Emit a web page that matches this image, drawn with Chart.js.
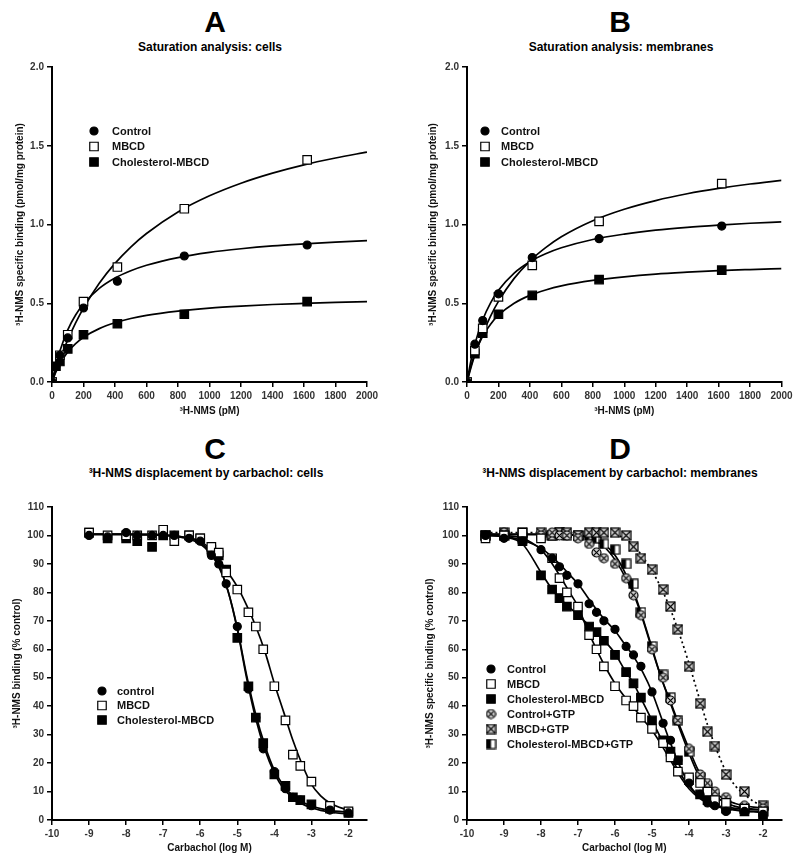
<!DOCTYPE html>
<html><head><meta charset="utf-8">
<script src="https://cdn.jsdelivr.net/npm/chart.js@4.4.0/dist/chart.umd.min.js"></script>
<style>
body{margin:0;background:#fff;width:800px;height:864px;position:relative;overflow:hidden;font-family:Arial,'Liberation Sans',sans-serif;color:#000}
.pan{position:absolute;width:400px;height:432px}
.letter{position:absolute;width:200px;text-align:center;font:bold 30px Arial,'Liberation Sans',sans-serif;line-height:30px}
.sub{position:absolute;width:400px;text-align:center;font:bold 12px Arial,'Liberation Sans',sans-serif;line-height:14px}
</style></head><body>
<div class="letter" style="left:115px;top:7px">A</div>
<div class="sub" style="left:10px;top:40px">Saturation analysis: cells</div>
<div class="letter" style="left:520px;top:7px">B</div>
<div class="sub" style="left:421px;top:40px">Saturation analysis: membranes</div>
<div class="letter" style="left:115px;top:434px">C</div>
<div class="sub" style="left:6px;top:466px">³H-NMS displacement by carbachol: cells</div>
<div class="letter" style="left:520px;top:434px">D</div>
<div class="sub" style="left:420px;top:466px">³H-NMS displacement by carbachol: membranes</div>
<div class="pan" style="left:0;top:0"><canvas id="cA" width="400" height="432"></canvas></div>
<div class="pan" style="left:400px;top:0"><canvas id="cB" width="400" height="432"></canvas></div>
<div class="pan" style="left:0;top:432px"><canvas id="cC" width="400" height="432"></canvas></div>
<div class="pan" style="left:400px;top:432px"><canvas id="cD" width="400" height="432"></canvas></div>
<script>
// ---------------- DATA ----------------
// Panel A: saturation, cells (x = 3H-NMS pM)
const A_xControl = [0, 25, 50, 100, 200, 415, 840, 1620];
const A_yControl = [0, 0.10, 0.17, 0.28, 0.47, 0.64, 0.80, 0.87];
const A_xMBCD = [0, 50, 100, 200, 415, 840, 1620];
const A_yMBCD = [0, 0.17, 0.30, 0.51, 0.73, 1.10, 1.41];
const A_xChol = [0, 25, 50, 100, 200, 415, 840, 1620];
const A_yChol = [0, 0.10, 0.13, 0.21, 0.30, 0.37, 0.43, 0.51];
// fitted curves
const satCurveX = [0, 25, 50, 100, 150, 200, 300, 400, 500, 600, 800, 1000, 1200, 1400, 1600, 1800, 2000];
const A_fitControl = [0, 0.11, 0.197, 0.331, 0.425, 0.495, 0.594, 0.66, 0.706, 0.741, 0.79, 0.823, 0.846, 0.864, 0.877, 0.888, 0.897];
const A_fitMBCD = [0, 0.075, 0.144, 0.267, 0.375, 0.469, 0.627, 0.753, 0.857, 0.943, 1.08, 1.182, 1.262, 1.326, 1.379, 1.422, 1.46];
const A_fitChol = [0, 0.064, 0.114, 0.19, 0.243, 0.284, 0.339, 0.376, 0.403, 0.423, 0.45, 0.469, 0.482, 0.492, 0.499, 0.505, 0.51];

// Panel B: saturation, membranes
const B_xControl = [0, 50, 100, 200, 415, 840, 1620];
const B_yControl = [0, 0.24, 0.39, 0.56, 0.79, 0.91, 0.99];
const B_xMBCD = [0, 50, 100, 200, 415, 840, 1620];
const B_yMBCD = [0, 0.20, 0.34, 0.54, 0.74, 1.02, 1.26];
const B_xChol = [0, 50, 100, 200, 415, 840, 1620];
const B_yChol = [0, 0.18, 0.31, 0.43, 0.55, 0.65, 0.71];
const B_fitControl = [0, 0.135, 0.24, 0.395, 0.502, 0.582, 0.692, 0.764, 0.814, 0.852, 0.905, 0.939, 0.964, 0.982, 0.996, 1.008, 1.017];
const B_fitMBCD = [0, 0.09, 0.171, 0.307, 0.419, 0.512, 0.658, 0.768, 0.853, 0.922, 1.024, 1.097, 1.152, 1.195, 1.229, 1.257, 1.28];
const B_fitChol = [0, 0.101, 0.179, 0.291, 0.367, 0.424, 0.5, 0.55, 0.584, 0.61, 0.645, 0.668, 0.685, 0.697, 0.707, 0.714, 0.72];

// Panel C: displacement by carbachol, cells (x = log M)
const C_x = [-9, -8.5, -8, -7.7, -7.3, -7, -6.7, -6.3, -6, -5.7, -5.5, -5.3, -5, -4.7, -4.5, -4.3, -4, -3.7, -3.5, -3.3, -3, -2.5, -2];
const C_control = [100, 99.5, 101, 100, 100, 100, 100, 99, 98, 93, 90, 83, 68, 46, 36, 25, 17, 11, 8, 7, 5, 3.5, 2.5];
const C_mbcd = [101, 100, 100, 100, 100, 102, 98, 100, 99, 96, 94, 87, 81, 73, 68, 60, 47, 35, 23, 19, 13.5, 5, 3];
const C_chol = [101, 99, 99, 98, 96, 100, 100, 100, 99, 95, 93, 88, 64, 47, 36, 27, 16, 12, 8, 7, 5.5, 4, 2.5];
const C_curveX = [-9, -8.5, -8, -7.5, -7, -6.5, -6, -5.75, -5.5, -5.25, -5, -4.75, -4.5, -4.25, -4, -3.75, -3.5, -3.25, -3, -2.75, -2.5, -2.25, -2];
const C_fitControl = [100.5, 100.5, 100.5, 100.4, 100.2, 99.5, 97.5, 94.5, 89.5, 80.5, 67, 50, 35.5, 24.5, 16.5, 11, 7.8, 5.6, 4.3, 3.4, 2.8, 2.4, 2.2];
const C_fitChol = [100.3, 100.3, 100.3, 100.2, 100, 99.3, 97, 94, 89, 80.5, 67.5, 51, 37, 26, 17.5, 12, 8.5, 6.3, 5, 4, 3.4, 3, 2.8];
const C_fitMBCD = [100.5, 100.5, 100.5, 100.4, 100.2, 99.5, 98, 95.5, 91.5, 87, 82, 75.5, 68, 59, 48, 38, 28, 19.5, 12.5, 8.5, 6, 4.5, 3.5];

// Panel D: displacement by carbachol, membranes
const D_x = [-9.5, -9, -8.5, -8, -7.7, -7.5, -7.3, -7, -6.7, -6.5, -6.3, -6, -5.7, -5.5, -5.3, -5, -4.7, -4.5, -4.3, -4, -3.7, -3.5, -3.3, -3, -2.5, -2];
const D_control = [100, 99, 98, 95, 92, 89, 86, 83, 76, 73, 70, 67, 61, 58, 54, 45, 34, 28, 21, 13, 9, 6, 5, 3, 3, 2];
const D_mbcd = [99, 100, 101, 99, 92, 85, 80, 75, 65, 60, 54, 47, 42, 40, 36, 32, 27, 22, 17, 15, 13, 10, 7, 6, 4, 3];
const D_chol = [100, 100, 98, 86, 81, 78, 75, 72, 68, 66, 63, 58, 52, 48, 43, 35, 28, 24, 21, 14, 9, 7, 6, 4, 3, 2];
const D_ctrlGTP = [100, 101, 100, 100, 101, 100, 100, 99, 97, 94, 92, 90, 85, 79, 72, 60, 50, 42, 35, 25, 16, 13, 10, 8, 5, 4];
const D_mbcdGTP = [100, 101, 101, 101, 100, 101, 101, 100, 101, 101, 101, 101, 100, 96, 92, 88, 81, 75, 67, 54, 41, 31, 26, 16, 10, 5];
const D_cholGTP = [100, 100, 99, 100, 100, 101, 100, 100, 100, 99, 97, 95, 90, 83, 73, 61, 51, 43, 35, 24, 15, 11, 8, 5, 4, 3];
const D_curveX = [-9.5, -9, -8.5, -8, -7.75, -7.5, -7.25, -7, -6.75, -6.5, -6.25, -6, -5.75, -5.5, -5.25, -5, -4.75, -4.5, -4.25, -4, -3.75, -3.5, -3.25, -3, -2.75, -2.5, -2.25, -2];
const D_fitControl = [100, 99.7, 98.3, 95.5, 93, 90, 86.5, 83, 78.5, 74, 70, 66.5, 62, 57.5, 52, 45, 36, 27, 19, 12.5, 8.5, 6, 4.8, 4, 3.5, 3.1, 2.9, 2.7];
const D_fitMBCD = [100.5, 100, 99, 95, 91, 86, 80.5, 75, 67, 60, 53.5, 48, 43.5, 39.5, 35.5, 31.5, 26.5, 21, 15.5, 11, 8, 6, 5, 4.5, 4.1, 3.8, 3.6, 3.5];
const D_fitChol = [100, 99.5, 97, 87, 82, 78, 75, 72, 69, 66, 62.5, 58.5, 53, 48, 41.5, 35, 28.5, 22.5, 16.5, 12, 8.5, 6.5, 5, 4.2, 3.6, 3.2, 3, 2.8];
const D_fitCtrlGTP = [100.5, 100.5, 100.5, 100.5, 100.4, 100.4, 100.3, 100.2, 99.5, 98, 95.5, 91.5, 86, 79.5, 70.5, 60, 50, 41.5, 33, 25, 17.5, 12.5, 9.2, 7, 5.8, 5, 4.5, 4.2];
const D_fitCholGTP = [100.3, 100.3, 100.3, 100.3, 100.3, 100.2, 100.2, 100, 99.6, 98.5, 96.5, 93, 87.5, 80.5, 71, 60.5, 50, 41, 32, 23.5, 16, 11, 8, 6, 4.8, 4.2, 3.8, 3.5];
const D_fitMBCDGTP = [101, 101, 101, 101, 101, 101, 101, 101, 100.9, 100.8, 100.7, 100.5, 99, 96.5, 92.5, 87.5, 81.5, 74, 65, 55, 44, 33.5, 24.5, 17, 12, 9, 6.5, 5];

// tick labels
const satXTicks = [0, 200, 400, 600, 800, 1000, 1200, 1400, 1600, 1800, 2000];
const satYTicks = [0, 0.5, 1.0, 1.5, 2.0];
const dispXTicks = [-10, -9, -8, -7, -6, -5, -4, -3, -2];
const dispYTicks = [0, 10, 20, 30, 40, 50, 60, 70, 80, 90, 100, 110];

// ---------------- MARKERS ----------------
function mk(fn){const c=document.createElement('canvas');c.width=11;c.height=11;const g=c.getContext('2d');fn(g);return c;}
const circleX = mk(g=>{g.beginPath();g.arc(5.5,5.5,4.5,0,Math.PI*2);g.fillStyle='#cfcfcf';g.fill();g.lineWidth=1.2;g.strokeStyle='#000';g.stroke();
  g.beginPath();g.moveTo(2.6,2.6);g.lineTo(8.4,8.4);g.moveTo(8.4,2.6);g.lineTo(2.6,8.4);g.lineWidth=1.1;g.stroke();});
const squareX = mk(g=>{g.fillStyle='#cfcfcf';g.fillRect(1,1,9,9);g.lineWidth=1.2;g.strokeStyle='#000';g.strokeRect(1,1,9,9);
  g.beginPath();g.moveTo(1,1);g.lineTo(10,10);g.moveTo(10,1);g.lineTo(1,10);g.lineWidth=1.1;g.stroke();});
const halfSq = mk(g=>{g.fillStyle='#fff';g.fillRect(1,1,9,9);g.fillStyle='#000';g.fillRect(1,1,4.5,9);g.lineWidth=1.2;g.strokeStyle='#000';g.strokeRect(1,1,9,9);});

const STY = {
  circle:{pointStyle:'circle',radius:4,bg:'#000'},
  open:{pointStyle:'rect',radius:6,bg:'#fff'},
  filled:{pointStyle:'rect',radius:6,bg:'#000'},
  circleX:{pointStyle:circleX,radius:5,bg:'#000'},
  squareX:{pointStyle:squareX,radius:5,bg:'#000'},
  halfSq:{pointStyle:halfSq,radius:5,bg:'#000'}
};

const FONT = "Arial, 'Liberation Sans', sans-serif";
function pts(xs, ys){return xs.map((x,i)=>({x:x,y:ys[i]}));}
function pointSet(label, xs, ys, sty){
  return {label, data:pts(xs,ys), showLine:false, pointStyle:sty.pointStyle, pointRadius:sty.radius, pointHoverRadius:sty.radius,
    pointBackgroundColor:sty.bg, pointBorderColor:'#000', pointBorderWidth:1.2, order:0};
}
function curveSet(xs, ys, dash){
  return {label:'', data:pts(xs,ys), showLine:true, pointRadius:0, borderColor:'#000', borderWidth:1.7,
    borderDash:dash||[], cubicInterpolationMode:'monotone', fill:false, order:10};
}

const legendPlugin = {
  id:'customLegend',
  afterDraw(chart, args, o){
    if(!o || !o.items) return;
    const ctx = chart.ctx;
    ctx.save();
    o.items.forEach((it,i)=>{
      const y = o.y + i*o.dy;
      const s = STY[it.style];
      ctx.fillStyle = s.bg; ctx.strokeStyle='#000'; ctx.lineWidth=1.2;
      Chart.helpers.drawPoint(ctx,{pointStyle:s.pointStyle,radius:s.radius,rotation:0,borderWidth:1.2}, o.x, y);
      ctx.fillStyle='#111'; ctx.font='bold 11px '+FONT; ctx.textBaseline='middle'; ctx.textAlign='left';
      ctx.fillText(it.label, o.tx, y+0.5);
    });
    ctx.restore();
  }
};

function axis(min,max,ticksArr,opts){
  return {
    type:'linear', min, max,
    afterBuildTicks(scale){ scale.ticks = ticksArr.map(v=>({value:v})); },
    afterFit(scale){ if(opts.w!==undefined) scale.width = opts.w; if(opts.h!==undefined) scale.height = opts.h; },
    ticks:{color:'#333', font:{family:FONT,size:10,weight:'bold'}, padding:3, autoSkip:false, maxRotation:0,
      callback:opts.fmt||(v=>v)},
    grid:{display:true, drawOnChartArea:false, drawTicks:true, tickLength:5, color:'#000', lineWidth:1.5},
    border:{display:true, color:'#000', width:2},
    title:{display:true, text:opts.title, color:'#111', font:{family:FONT,size:10,weight:'bold'}, padding:opts.tpad}
  };
}

function makeChart(id, datasets, xs, ys, pad, legend){
  return new Chart(document.getElementById(id), {
    type:'scatter',
    data:{datasets},
    options:{
      responsive:false, animation:false, devicePixelRatio:1,
      layout:{padding:pad},
      plugins:{legend:{display:false}, tooltip:{enabled:false}, customLegend:legend},
      scales:{x:xs, y:ys}
    },
    plugins:[legendPlugin]
  });
}

const fmt1 = v=>v.toFixed(1);

// Panel A
makeChart('cA', [
  pointSet('Control', A_xControl, A_yControl, STY.circle),
  pointSet('MBCD', A_xMBCD, A_yMBCD, STY.open),
  pointSet('Cholesterol-MBCD', A_xChol, A_yChol, STY.filled),
  curveSet(satCurveX, A_fitControl), curveSet(satCurveX, A_fitMBCD), curveSet(satCurveX, A_fitChol)
], axis(0,2000,satXTicks,{h:50,title:'³H-NMS (pM)',tpad:{top:4,bottom:15}}),
   axis(0,2,satYTicks,{w:52,title:'³H-NMS specific binding (pmol/mg protein)',tpad:{top:14,bottom:0},fmt:fmt1}),
   {top:67,left:0,right:33,bottom:0},
   {x:94,y:131,dy:15.5,tx:112,items:[{label:'Control',style:'circle'},{label:'MBCD',style:'open'},{label:'Cholesterol-MBCD',style:'filled'}]});

// Panel B
makeChart('cB', [
  pointSet('Control', B_xControl, B_yControl, STY.circle),
  pointSet('MBCD', B_xMBCD, B_yMBCD, STY.open),
  pointSet('Cholesterol-MBCD', B_xChol, B_yChol, STY.filled),
  curveSet(satCurveX, B_fitControl), curveSet(satCurveX, B_fitMBCD), curveSet(satCurveX, B_fitChol)
], axis(0,2000,satXTicks,{h:50,title:'³H-NMS (pM)',tpad:{top:4,bottom:15}}),
   axis(0,2,satYTicks,{w:67,title:'³H-NMS specific binding (pmol/mg protein)',tpad:{top:27,bottom:0},fmt:fmt1}),
   {top:67,left:0,right:18.5,bottom:0},
   {x:85,y:131,dy:15.5,tx:101,items:[{label:'Control',style:'circle'},{label:'MBCD',style:'open'},{label:'Cholesterol-MBCD',style:'filled'}]});

// Panel C
makeChart('cC', [
  pointSet('control', C_x, C_control, STY.circle),
  pointSet('MBCD', C_x, C_mbcd, STY.open),
  pointSet('Cholesterol-MBCD', C_x, C_chol, STY.filled),
  curveSet(C_curveX, C_fitControl), curveSet(C_curveX, C_fitChol), curveSet(C_curveX, C_fitMBCD)
], axis(-10,-1.5,dispXTicks,{h:44,title:'Carbachol (log M)',tpad:{top:4,bottom:10}}),
   axis(0,110,dispYTicks,{w:52,title:'³H-NMS binding (% control)',tpad:{top:11,bottom:0}}),
   {top:75,left:0,right:33,bottom:0},
   {x:102,y:259,dy:14.5,tx:117,items:[{label:'control',style:'circle'},{label:'MBCD',style:'open'},{label:'Cholesterol-MBCD',style:'filled'}]});

// Panel D
makeChart('cD', [
  pointSet('Control', D_x, D_control, STY.circle),
  pointSet('MBCD', D_x, D_mbcd, STY.open),
  pointSet('Cholesterol-MBCD', D_x, D_chol, STY.filled),
  pointSet('Control+GTP', D_x, D_ctrlGTP, STY.circleX),
  pointSet('MBCD+GTP', D_x, D_mbcdGTP, STY.squareX),
  pointSet('Cholesterol-MBCD+GTP', D_x, D_cholGTP, STY.halfSq),
  curveSet(D_curveX, D_fitControl), curveSet(D_curveX, D_fitMBCD), curveSet(D_curveX, D_fitChol),
  curveSet(D_curveX, D_fitCtrlGTP), curveSet(D_curveX, D_fitCholGTP), curveSet(D_curveX, D_fitMBCDGTP, [2,3])
], axis(-10,-1.5,dispXTicks,{h:44,title:'Carbachol (log M)',tpad:{top:4,bottom:10}}),
   axis(0,110,dispYTicks,{w:67,title:'³H-NMS specific binding (% control)',tpad:{top:24,bottom:0}}),
   {top:75,left:0,right:18.5,bottom:0},
   {x:91,y:237,dy:15,tx:107,items:[{label:'Control',style:'circle'},{label:'MBCD',style:'open'},{label:'Cholesterol-MBCD',style:'filled'},
     {label:'Control+GTP',style:'circleX'},{label:'MBCD+GTP',style:'squareX'},{label:'Cholesterol-MBCD+GTP',style:'halfSq'}]});
</script>
</body></html>
